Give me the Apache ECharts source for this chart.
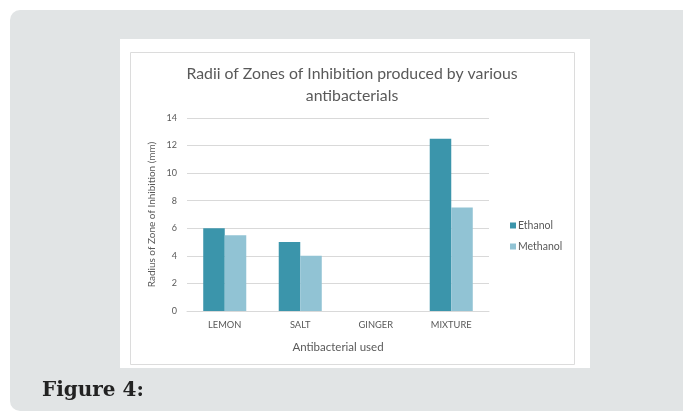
<!DOCTYPE html>
<html>
<head>
<meta charset="utf-8">
<script src="https://cdn.jsdelivr.net/npm/echarts@6/dist/echarts.min.js"></script>
<style>
html,body{margin:0;padding:0;background:#ffffff;}
#chart{width:683px;height:412px;}
</style>
</head>
<body>
<div id="chart"></div>
<script>
const categories = ['LEMON', 'SALT', 'GINGER', 'MIXTURE'];
const ethanol = [6, 5, 0, 12.5];
const methanol = [5.5, 4, 0, 7.5];
const seriesNames = ['Ethanol', 'Methanol'];
const titleText = 'Radii of Zones of Inhibition produced by various\nantibacterials';
const yAxisTitle = 'Radius of Zone of Inhibition (mm)';
const xAxisTitle = 'Antibacterial used';
const caption = 'Figure 4:';

const chart = echarts.init(document.getElementById('chart'), null, {renderer: 'canvas'});
const txt = '#595959';
chart.setOption({
  animation: false,
  backgroundColor: '#ffffff',
  textStyle: {fontFamily: 'Lato'},
  graphic: [
    {type: 'rect', z: -10, shape: {x: 10, y: 10, width: 690, height: 401, r: 10}, style: {fill: '#e1e4e5'}},
    {type: 'rect', z: -9, shape: {x: 120, y: 39, width: 470, height: 329}, style: {fill: '#ffffff'}},
    {type: 'rect', z: -8, shape: {x: 130.5, y: 52.5, width: 444, height: 312}, style: {fill: '#ffffff', stroke: '#dcdcdc', lineWidth: 1}},
    {type: 'text', z: -7, left: 42, top: 381, style: {text: caption, font: 'bold 20px "DejaVu Serif"', fill: '#222222'}}
  ],
  title: {
    text: titleText,
    left: 347,
    top: 58,
    textAlign: 'center',
    textStyle: {fontFamily: 'Lato', fontSize: 15.8, fontWeight: 'normal', color: txt, lineHeight: 22}
  },
  legend: {
    orient: 'vertical',
    left: 505,
    top: 215,
    itemWidth: 6,
    itemHeight: 6,
    itemGap: 10,
    icon: 'rect',
    data: seriesNames,
    textStyle: {fontSize: 10.5, color: txt, padding: [0, 0, 0, -3]}
  },
  grid: {left: 187, right: 194, top: 118, bottom: 101},
  xAxis: {
    type: 'category',
    data: categories,
    name: xAxisTitle,
    nameLocation: 'middle',
    nameGap: 30,
    nameTextStyle: {fontSize: 11.5, color: txt},
    axisLine: {show: true, lineStyle: {color: '#d9d9d9'}},
    axisTick: {show: false},
    axisLabel: {fontSize: 9.3, color: txt, margin: 9}
  },
  yAxis: {
    type: 'value',
    min: 0,
    max: 14,
    interval: 2,
    name: yAxisTitle,
    nameLocation: 'middle',
    nameRotate: 90,
    nameGap: 30,
    nameTextStyle: {fontSize: 10, color: txt},
    axisLine: {show: false},
    axisTick: {show: false},
    axisLabel: {fontSize: 9, color: txt, margin: 10}
  ,
    splitLine: {lineStyle: {color: '#d9d9d9'}}
  },
  series: [
    {name: seriesNames[0], type: 'bar', data: ethanol, barGap: '0%', barCategoryGap: '43%', itemStyle: {color: '#3b95ab'}},
    {name: seriesNames[1], type: 'bar', data: methanol, barGap: '0%', barCategoryGap: '43%', itemStyle: {color: '#91c3d4'}}
  ]
});
</script>
</body>
</html>
